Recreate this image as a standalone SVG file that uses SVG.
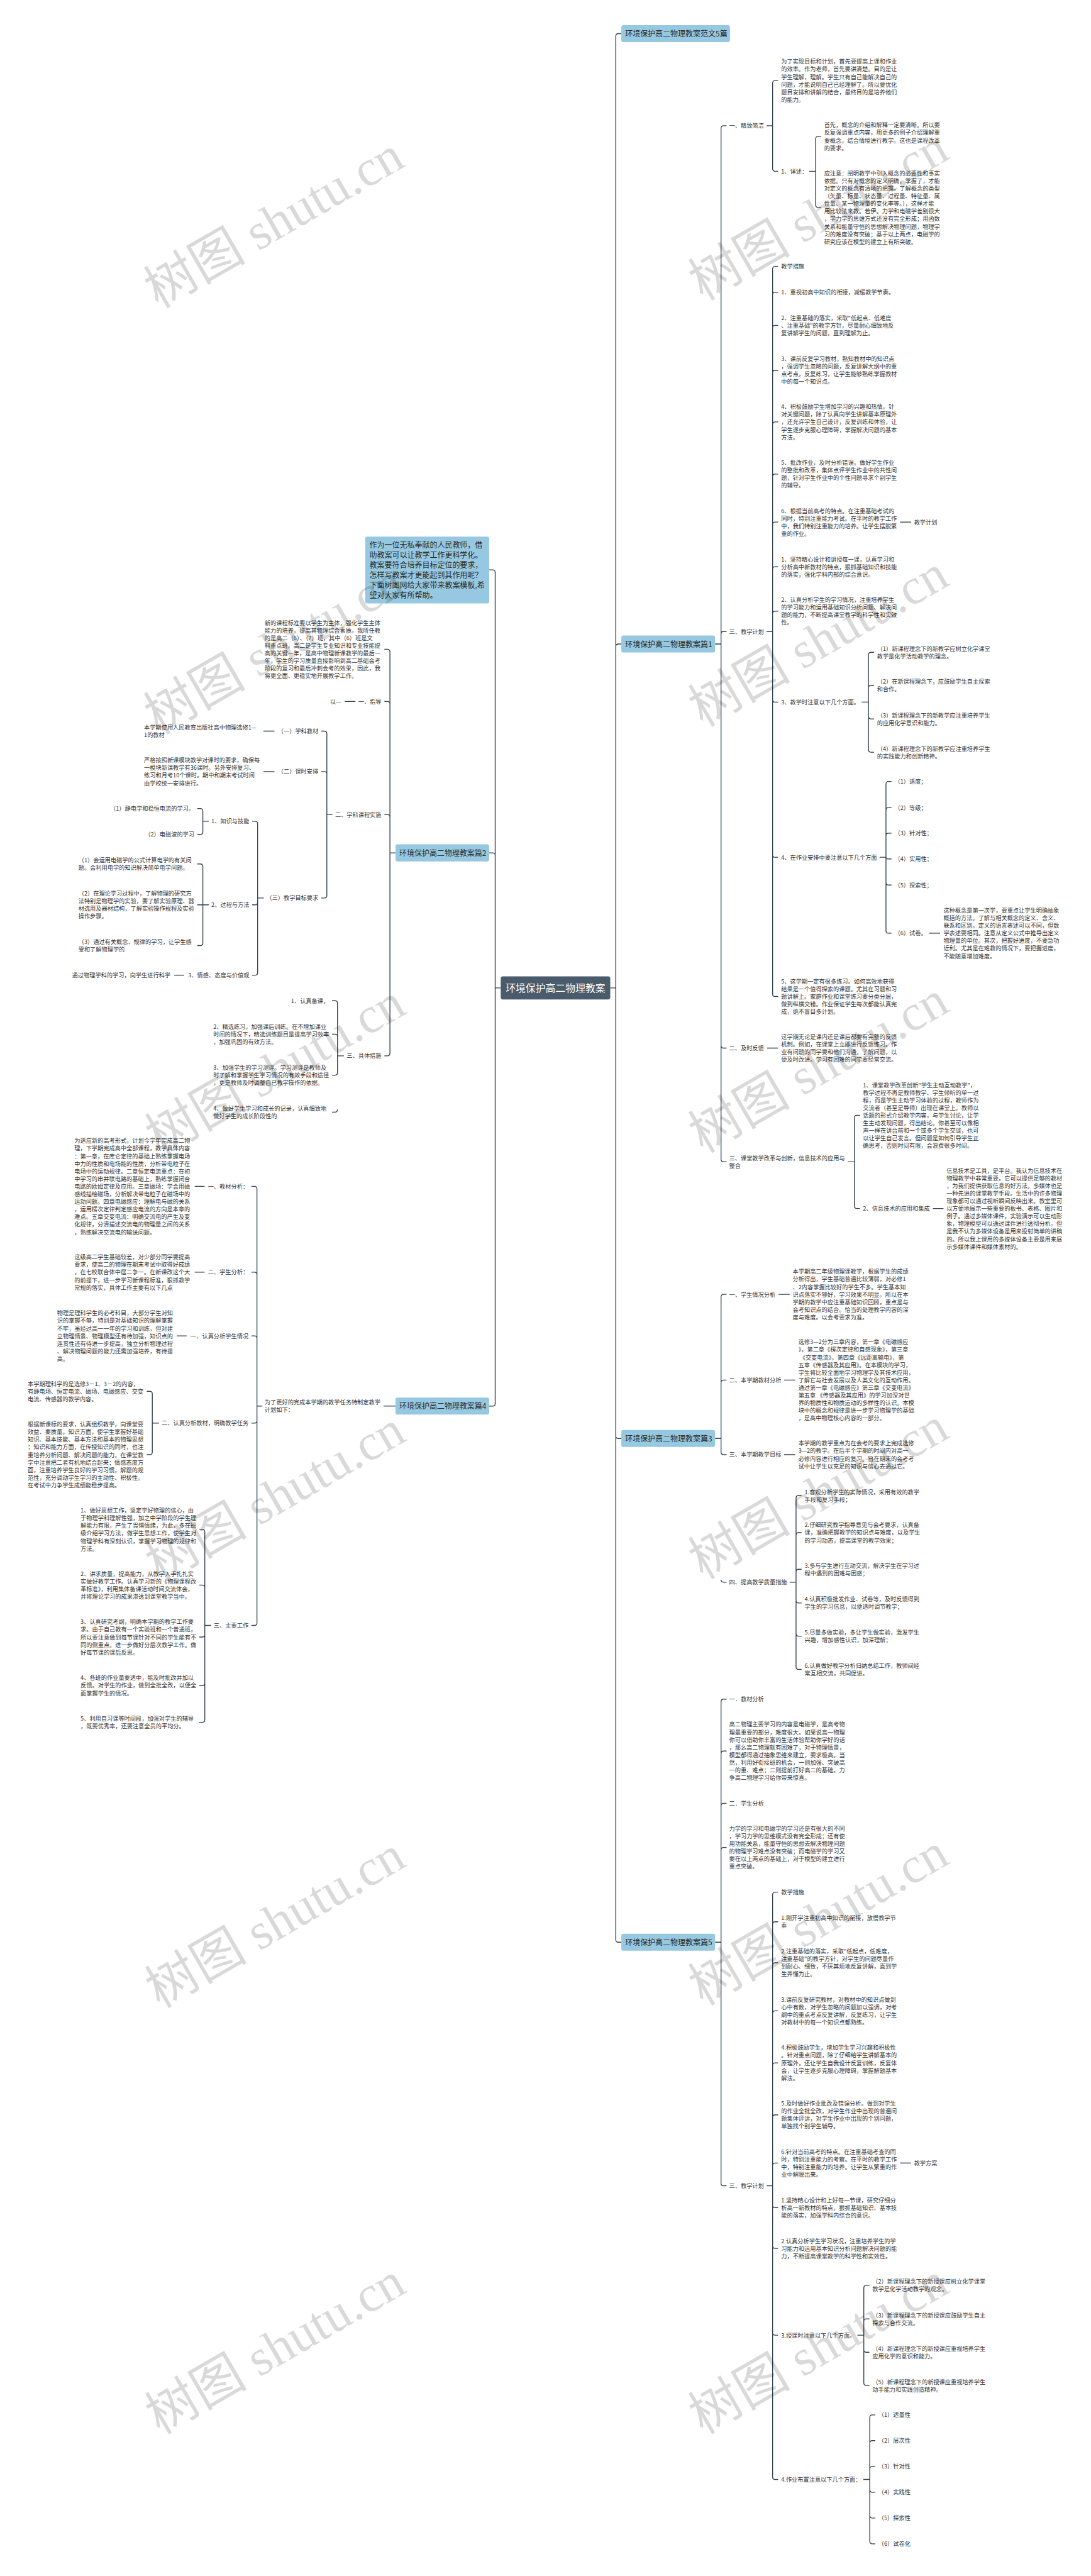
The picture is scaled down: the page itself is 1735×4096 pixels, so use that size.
<svg xmlns="http://www.w3.org/2000/svg" width="1735" height="4096" viewBox="0 0 1735 4096">
<style>
.t{font-family:"Noto Sans CJK SC","Noto Sans",sans-serif;font-size:13.6px;fill:#333}
.h{font-family:"Noto Sans CJK SC","Noto Sans",sans-serif;font-size:17.7px;fill:#2a2a2a}
.r{font-family:"Noto Sans CJK SC","Noto Sans",sans-serif;font-size:23.4px;fill:#fff;text-anchor:middle}
.e{text-anchor:end}
.ln{fill:none;stroke:#33414e;stroke-width:2}
.b1{fill:#96c9e1}
.wm{font-family:"Liberation Serif","Noto Sans CJK SC",serif;font-size:120px;fill:#000;fill-opacity:0.15;text-anchor:middle}
</style>
<rect width="1735" height="4096" fill="#fff"/>
<g transform="scale(0.6777)">
<g id="connectors">
<path class="ln" d="M1432 2318H1445V85Q1445 79 1451 79H1458M1432 2318H1445V1517Q1445 1511 1451 1511H1458M1432 2318H1445V3369Q1445 3375 1451 3375H1458M1432 2318H1445V4551Q1445 4557 1451 4557H1458"/>
<path class="ln" d="M1175 2318H1162V1343Q1162 1337 1156 1337H1148M1175 2318H1162V2007Q1162 2001 1156 2001H1148M1175 2318H1162V3293Q1162 3299 1156 3299H1148"/>
<path class="ln" d="M1678 1511H1692V301Q1692 295 1698 295H1705M1678 1511H1692V1487.5Q1692 1481.5 1698 1481.5H1705M1678 1511H1692V2453Q1692 2459 1698 2459H1705M1678 1511H1692V2720Q1692 2726 1698 2726H1705"/>
<path class="ln" d="M1799 295H1813V195Q1813 189 1819 189H1826M1799 295H1813V396Q1813 402 1819 402H1826"/>
<path class="ln" d="M1899 402H1914V326Q1914 320 1920 320H1927M1899 402H1914V480.7Q1914 486.7 1920 486.7H1927"/>
<path class="ln" d="M1799 1481.5H1813V631Q1813 625 1819 625H1826M1813 691.6Q1813 685.6 1819 685.6H1826M1813 769.4Q1813 763.4 1819 763.4H1826M1813 874.7Q1813 868.7 1819 868.7H1826M1813 996Q1813 990 1819 990H1826M1813 1118.3Q1813 1112.3 1819 1112.3H1826M1813 1231Q1813 1225 1819 1225H1826M1813 1335.7Q1813 1329.7 1819 1329.7H1826M1813 1440Q1813 1434 1819 1434H1826M1813 1481.5V2332Q1813 2338 1819 2338H1826M1813 1641.4Q1813 1647.4 1819 1647.4H1826M1813 2005.5Q1813 2011.5 1819 2011.5H1826"/>
<path class="ln" d="M2112 1225H2138"/>
<path class="ln" d="M2022 1647.4H2038V1536.6Q2038 1530.6 2044 1530.6H2051M2038 1614Q2038 1608 2044 1608H2051M2038 1647.4V1759Q2038 1765 2044 1765H2051M2038 1680.7Q2038 1686.7 2044 1686.7H2051"/>
<path class="ln" d="M2064 2011.5H2079V1839.6Q2079 1833.6 2085 1833.6H2092M2079 1900.8Q2079 1894.8 2085 1894.8H2092M2079 1960.8Q2079 1954.8 2085 1954.8H2092M2079 2011.5Q2079 2015.3 2083 2015.3H2092M2079 2011.5V2183.4Q2079 2189.4 2085 2189.4H2092M2079 2070.5Q2079 2076.5 2085 2076.5H2092"/>
<path class="ln" d="M2180 2189.4H2206M1800 2459H1826M2189 2835.5H2214"/>
<path class="ln" d="M1990 2726H2005V2623Q2005 2617 2011 2617H2018M1990 2726H2005V2829.5Q2005 2835.5 2011 2835.5H2018"/>
<path class="ln" d="M1678 3375H1692V3043Q1692 3037 1698 3037H1705M1692 3244Q1692 3238 1698 3238H1705M1678 3375H1692V3407Q1692 3413 1698 3413H1705M1692 3706.4Q1692 3712.4 1698 3712.4H1705"/>
<path class="ln" d="M1827 3037H1853M1840 3238H1866M1840 3413H1866"/>
<path class="ln" d="M1853 3712.4H1868V3515Q1868 3509 1874 3509H1881M1868 3602Q1868 3596 1874 3596H1881M1868 3688Q1868 3682 1874 3682H1881M1868 3712.4V3911Q1868 3917 1874 3917H1881M1868 3755Q1868 3761 1874 3761H1881M1868 3833Q1868 3839 1874 3839H1881"/>
<path class="ln" d="M1678 4557H1692V3992.7Q1692 3986.7 1698 3986.7H1705M1692 4114.4Q1692 4108.4 1698 4108.4H1705M1692 4237Q1692 4231 1698 4231H1705M1692 4340.8Q1692 4334.8 1698 4334.8H1705M1678 4557H1692V5122.4Q1692 5128.4 1698 5128.4H1705"/>
<path class="ln" d="M1799 5128.4H1813V4445.5Q1813 4439.5 1819 4439.5H1826M1813 4515Q1813 4509 1819 4509H1826M1813 4611Q1813 4605 1819 4605H1826M1813 4724Q1813 4718 1819 4718H1826M1813 4846Q1813 4840 1819 4840H1826M1813 4968Q1813 4962 1819 4962H1826M1813 5081Q1813 5075 1819 5075H1826M1813 5128.4V5811.5Q1813 5817.5 1819 5817.5H1826M1813 5173.6Q1813 5179.6 1819 5179.6H1826M1813 5269.4Q1813 5275.4 1819 5275.4H1826M1813 5473Q1813 5479 1819 5479H1826"/>
<path class="ln" d="M2112 5075H2138"/>
<path class="ln" d="M2012 5479H2027V5368Q2027 5362 2033 5362H2040M2027 5446.6Q2027 5440.6 2033 5440.6H2040M2027 5479V5591Q2027 5597 2033 5597H2040M2027 5513Q2027 5519 2033 5519H2040"/>
<path class="ln" d="M2026 5817.5H2041V5672Q2041 5666 2047 5666H2054M2041 5732.4Q2041 5726.4 2047 5726.4H2054M2041 5793Q2041 5787 2047 5787H2054M2041 5817.5V5962.5Q2041 5968.5 2047 5968.5H2054M2041 5841.5Q2041 5847.5 2047 5847.5H2054M2041 5902Q2041 5908 2047 5908H2054"/>
<path class="ln" d="M928 2001H915V1529.4Q915 1523.4 909 1523.4H902M915 1651.8Q915 1645.8 909 1645.8H902M915 1917Q915 1911 909 1911H902M928 2001H915V2471.4Q915 2477.4 909 2477.4H902"/>
<path class="ln" d="M834 1645.8H809"/>
<path class="ln" d="M780 1911H767V1721.3Q767 1715.3 761 1715.3H754M767 1816.4Q767 1810.4 761 1810.4H754M780 1911H767V2101Q767 2107 761 2107H754"/>
<path class="ln" d="M644 1715.3H618M644 1810.4H618"/>
<path class="ln" d="M619 2107H604.6V1933Q604.6 1927 598.6 1927H591.6M619 2107H604.6V2117Q604.6 2123 598.6 2123H591.6M604.6 2117V2282Q604.6 2288 598.6 2288H591.6"/>
<path class="ln" d="M490 1927H476V1903Q476 1897 470 1897H463M490 1927H476V1951.7Q476 1957.7 470 1957.7H463"/>
<path class="ln" d="M490 2123H476V2033Q476 2027 470 2027H463M490 2123H463M476 2123V2212.5Q476 2218.5 470 2218.5H463"/>
<path class="ln" d="M432 2288H409"/>
<path class="ln" d="M807 2477.4H792V2354Q792 2348 786 2348H779M792 2432.4Q792 2426.4 786 2426.4H779M807 2477.4H792V2516.7Q792 2522.7 786 2522.7H779M792 2603.4Q792 2609.4 786 2609.4H779"/>
<path class="ln" d="M928 3299H900"/>
<path class="ln" d="M615 3299H603V2789.6Q603 2783.6 597 2783.6H590M603 2991Q603 2985 597 2985H590M603 3140.4Q603 3134.4 597 3134.4H590M615 3299H603V3333Q603 3339 597 3339H590M603 3333V3807.6Q603 3813.6 597 3813.6H590"/>
<path class="ln" d="M480 2783.6H457M480 2985H457M438 3134.4H415"/>
<path class="ln" d="M373 3339H357.4V3270.4Q357.4 3264.4 351.4 3264.4H344.4M373 3339H357.4V3407Q357.4 3413 351.4 3413H344.4"/>
<path class="ln" d="M495 3813.6H480.6V3594.4Q480.6 3588.4 474.6 3588.4H467.6M480.6 3725Q480.6 3719 474.6 3719H467.6M495 3813.6H480.6V3835Q480.6 3841 474.6 3841H467.6M480.6 3835V3948.5Q480.6 3954.5 474.6 3954.5H467.6M480.6 3948.5V4035Q480.6 4041 474.6 4041H467.6"/>
</g>

<g id="root"><rect x="1175" y="2291" width="257" height="54" rx="5" fill="#4a5c6c"/><text class="r" x="1303.5" y="2327">环境保护高二物理教案</text></g>

<g id="intro"><rect class="b1" x="857" y="1259" width="291" height="157" rx="5"/><text class="h" x="867" y="1285.7"><tspan>作为一位无私奉献的人民教师，借</tspan><tspan x="867" dy="23.4">助教案可以让教学工作更科学化。</tspan><tspan x="867" dy="23.4">教案要符合培养目标定位的要求，</tspan><tspan x="867" dy="23.4">怎样写教案才更能起到其作用呢？</tspan><tspan x="867" dy="23.4">下面树图网给大家带来教案模板,希</tspan><tspan x="867" dy="23.4">望对大家有所帮助。</tspan></text></g>

<g id="fanwen"><rect class="b1" x="1458" y="59" width="255" height="40" rx="5"/><text class="h" x="1467" y="85.7">环境保护高二物理教案范文5篇</text></g>

<g id="p1"><rect class="b1" x="1458" y="1491" width="220" height="40" rx="5"/><text class="h" x="1467" y="1517.7">环境保护高二物理教案篇1</text></g>
<g id="p1-1"><text class="t" x="1711" y="300.2">一、精致简洁</text></g>
<g id="p1-1-1"><text class="t" x="1833" y="149.6"><tspan>为了实现目标和计划，首先要提高上课和作业</tspan><tspan x="1833" dy="17.86">的效率。作为老师，首先要讲清楚。目的是让</tspan><tspan x="1833" dy="17.86">学生理解，理解。学生只有自己能解决自己的</tspan><tspan x="1833" dy="17.86">问题，才能说明自己已经理解了。所以要优化</tspan><tspan x="1833" dy="17.86">题目安排和讲解的结合，最终目的是培养他们</tspan><tspan x="1833" dy="17.86">的能力。</tspan></text></g>
<g id="p1-1-2"><text class="t" x="1833" y="407">1、详述：</text></g>
<g id="p1-1-2-1"><text class="t" x="1934" y="298.6"><tspan>首先，概念的介绍和解释一定要清晰。所以要</tspan><tspan x="1934" dy="17.86">反复强调重点内容，用更多的例子介绍理解重</tspan><tspan x="1934" dy="17.86">要概念，结合情境进行教学。这也是课程改革</tspan><tspan x="1934" dy="17.86">的要求。</tspan></text></g>
<g id="p1-1-2-2"><text class="t" x="1934" y="411.5"><tspan>应注意：阐明教学中引入概念的必要性和事实</tspan><tspan x="1934" dy="17.86">依据。只有对概念的定义明确，掌握了，才能</tspan><tspan x="1934" dy="17.86">对定义的概念有清晰的把握。了解概念的类型</tspan><tspan x="1934" dy="17.86">（矢量、标量、状态量、过程量、特征量、属</tspan><tspan x="1934" dy="17.86">性量、某一物理量的变化率等。），这样才能</tspan><tspan x="1934" dy="17.86">用比较法来教。若伊。力学和电磁学差别很大</tspan><tspan x="1934" dy="17.86">，学力学的思维方式还没有完全形成；用函数</tspan><tspan x="1934" dy="17.86">关系和能量守恒的思想解决物理问题，物理学</tspan><tspan x="1934" dy="17.86">习的难度没有突破；基于以上两点，电磁学的</tspan><tspan x="1934" dy="17.86">研究应该在模型的建立上有所突破。</tspan></text></g>

<g id="p1-3"><text class="t" x="1711" y="1486.7">三、教学计划</text></g>
<g id="p1-3-0"><text class="t" x="1833" y="630.2">教学措施</text></g>
<g id="p1-3-1"><text class="t" x="1833" y="690.8">1、重视初高中知识的衔接，减缓教学节奏。</text></g>
<g id="p1-3-2"><text class="t" x="1833" y="750.7"><tspan>2、注重基础的落实，采取"低起点、低难度</tspan><tspan x="1833" dy="17.86">、注重基础"的教学方针，尽量耐心细致地反</tspan><tspan x="1833" dy="17.86">复讲解学生的问题，直到理解为止。</tspan></text></g>
<g id="p1-3-3"><text class="t" x="1833" y="847.1"><tspan>3、课前反复学习教材，熟知教材中的知识点</tspan><tspan x="1833" dy="17.86">，强调学生忽略的问题，反复讲解大纲中的重</tspan><tspan x="1833" dy="17.86">点考点，反复练习，让学生能够熟练掌握教材</tspan><tspan x="1833" dy="17.86">中的每一个知识点。</tspan></text></g>
<g id="p1-3-4"><text class="t" x="1833" y="959.5"><tspan>4、积极鼓励学生增加学习的兴趣和热情。针</tspan><tspan x="1833" dy="17.86">对关键问题，除了认真向学生讲解基本原理外</tspan><tspan x="1833" dy="17.86">，还允许学生自己设计，反复训练和体验，让</tspan><tspan x="1833" dy="17.86">学生逐步克服心理障碍，掌握解决问题的基本</tspan><tspan x="1833" dy="17.86">方法。</tspan></text></g>
<g id="p1-3-5"><text class="t" x="1833" y="1090.7"><tspan>5、批改作业，及时分析错误。做好学生作业</tspan><tspan x="1833" dy="17.86">的整批和改革，集体点评学生作业中的共性问</tspan><tspan x="1833" dy="17.86">题，针对学生作业中的个性问题寻求个别学生</tspan><tspan x="1833" dy="17.86">的辅导。</tspan></text></g>
<g id="p1-3-6"><text class="t" x="1833" y="1203.4"><tspan>6、根据当前高考的特点。在注重基础考试的</tspan><tspan x="1833" dy="17.86">同时，特别注重能力考试。在平时的教学工作</tspan><tspan x="1833" dy="17.86">中，我们特别注重能力的培养。让学生摆脱繁</tspan><tspan x="1833" dy="17.86">重的作业。</tspan></text></g>
<g id="p1-3-6-1"><text class="t" x="2145" y="1230.2">教学计划</text></g>
<g id="p1-3-7"><text class="t" x="1833" y="1317"><tspan>1、坚持精心设计和讲授每一课，认真学习和</tspan><tspan x="1833" dy="17.86">分析高中新教材的特点，狠抓基础知识和技能</tspan><tspan x="1833" dy="17.86">的落实，强化学科内部的综合意识。</tspan></text></g>
<g id="p1-3-8"><text class="t" x="1833" y="1412.4"><tspan>2、认真分析学生的学习情况，注重培养学生</tspan><tspan x="1833" dy="17.86">的学习能力和运用基础知识分析问题、解决问</tspan><tspan x="1833" dy="17.86">题的能力，不断提高课堂教学的科学性和实效</tspan><tspan x="1833" dy="17.86">性。</tspan></text></g>
<g id="p1-3-9"><text class="t" x="1833" y="1652.6">3、教学时注意以下几个方面。</text></g>
<g id="p1-3-9-1"><text class="t" x="2058" y="1526.9"><tspan>（1）新课程理念下的新教学应树立化学课堂</tspan><tspan x="2058" dy="17.86">教学是化学活动教学的理念。</tspan></text></g>
<g id="p1-3-9-2"><text class="t" x="2058" y="1604.3"><tspan>（2）在新课程理念下，应鼓励学生自主探索</tspan><tspan x="2058" dy="17.86">和合作。</tspan></text></g>
<g id="p1-3-9-3"><text class="t" x="2058" y="1683"><tspan>（3）新课程理念下的新教学应注重培养学生</tspan><tspan x="2058" dy="17.86">的应用化学意识和能力。</tspan></text></g>
<g id="p1-3-9-4"><text class="t" x="2058" y="1761.3"><tspan>（4）新课程理念下的新教学应注重培养学生</tspan><tspan x="2058" dy="17.86">的实践能力和创新精神。</tspan></text></g>
<g id="p1-3-10"><text class="t" x="1833" y="2016.7">4、在作业安排中要注意以下几个方面</text></g>
<g id="p1-3-10-1"><text class="t" x="2099" y="1838.8">（1）适度；</text></g>
<g id="p1-3-10-2"><text class="t" x="2099" y="1900">（2）等级；</text></g>
<g id="p1-3-10-3"><text class="t" x="2099" y="1960">（3）针对性；</text></g>
<g id="p1-3-10-4"><text class="t" x="2099" y="2020.5">（4）实用性；</text></g>
<g id="p1-3-10-5"><text class="t" x="2099" y="2081.7">（5）探索性；</text></g>
<g id="p1-3-10-6"><text class="t" x="2099" y="2194.6">（6）试卷。</text></g>
<g id="p1-3-10-6-1"><text class="t" x="2214" y="2141"><tspan>这种概念是第一次学，要重点让学生明确抽象</tspan><tspan x="2214" dy="17.86">概括的方法。了解与相关概念的定义、含义、</tspan><tspan x="2214" dy="17.86">联系和区别。定义的语言表述可以不同，但数</tspan><tspan x="2214" dy="17.86">学表述要相同。注意从定义公式中推导出定义</tspan><tspan x="2214" dy="17.86">物理量的单位。其次，把握好进度，不要急功</tspan><tspan x="2214" dy="17.86">近利。尤其是在难教的情况下，要把握进度，</tspan><tspan x="2214" dy="17.86">不能随意增加难度。</tspan></text></g>
<g id="p1-3-11"><text class="t" x="1833" y="2307.5"><tspan>5、这学期一定有很多练习。如何高效地获得</tspan><tspan x="1833" dy="17.86">结果是一个值得探索的课题。尤其在习题和习</tspan><tspan x="1833" dy="17.86">题讲解上。家庭作业和课堂练习要分类分层，</tspan><tspan x="1833" dy="17.86">做到纵横交错。作业保证学生每次都能认真完</tspan><tspan x="1833" dy="17.86">成，绝不盲目多计划。</tspan></text></g>
<g id="p1-2"><text class="t" x="1711" y="2464.2">二、及时反馈</text></g>
<g id="p1-2-1"><text class="t" x="1833" y="2437.4"><tspan>这学期无论是课内还是课后都要有完整的反馈</tspan><tspan x="1833" dy="17.86">机制。例如，在课堂上立即进行反馈练习。作</tspan><tspan x="1833" dy="17.86">业有问题的同学要和他们沟通，了解问题，以</tspan><tspan x="1833" dy="17.86">便及时改进。学习有困难的同学要经常交流。</tspan></text></g>
<g id="p1-4"><text class="t" x="1711" y="2722.3"><tspan>三、课堂教学改革与创新，信息技术的应用与</tspan><tspan x="1711" dy="17.86">整合</tspan></text></g>
<g id="p1-4-1"><text class="t" x="2025" y="2550.8"><tspan>1、课堂教学改革创新"学生主动互动教学"，</tspan><tspan x="2025" dy="17.86">教学过程不再是教师教学、学生倾听的单一过</tspan><tspan x="2025" dy="17.86">程，而是学生主动学习体验的过程，教师作为</tspan><tspan x="2025" dy="17.86">交流者（甚至是导师）出现在课堂上。教师以</tspan><tspan x="2025" dy="17.86">话题的形式介绍教学内容，与学生讨论，让学</tspan><tspan x="2025" dy="17.86">生主动发现问题，得出结论。你甚至可以像相</tspan><tspan x="2025" dy="17.86">声一样在讲台前和一个或多个学生交谈，也可</tspan><tspan x="2025" dy="17.86">以让学生自己发言。但问题是如何引导学生正</tspan><tspan x="2025" dy="17.86">确思考，否则时间有限，会浪费很多时间。</tspan></text></g>
<g id="p1-4-2"><text class="t" x="2025" y="2840.7">2、信息技术的应用和集成</text></g>
<g id="p1-4-2-1"><text class="t" x="2221" y="2751.4"><tspan>信息技术是工具，是平台。我认为信息技术在</tspan><tspan x="2221" dy="17.86">物理教学中非常重要。它可以提供足够的教材</tspan><tspan x="2221" dy="17.86">，为我们提供获取信息的好方法。多媒体也是</tspan><tspan x="2221" dy="17.86">一种先进的课堂教学手段。生活中的许多物理</tspan><tspan x="2221" dy="17.86">现象都可以通过视听瞬间反映出来。教室里可</tspan><tspan x="2221" dy="17.86">以方便地展示一些重要的板书、表格、图片和</tspan><tspan x="2221" dy="17.86">例子。通过多媒体课件，实验演示可以生动形</tspan><tspan x="2221" dy="17.86">象，物理模型可以通过课件进行透彻分析。但</tspan><tspan x="2221" dy="17.86">是我不认为多媒体设备是用来投射简单的讲稿</tspan><tspan x="2221" dy="17.86">的。所以我上课用的多媒体设备主要是用来展</tspan><tspan x="2221" dy="17.86">示多媒体课件和媒体素材的。</tspan></text></g>

<g id="p3"><rect class="b1" x="1458" y="3355" width="220" height="40" rx="5"/><text class="h" x="1467" y="3381.7">环境保护高二物理教案篇3</text></g>
<g id="p3-1"><text class="t" x="1711" y="3042.2">一、学生情况分析</text></g>
<g id="p3-1-1"><text class="t" x="1860" y="2988.6"><tspan>本学期高二年级物理课教学，根据学生的成绩</tspan><tspan x="1860" dy="17.86">分析得出，学生基础普遍比较薄弱，对必修1</tspan><tspan x="1860" dy="17.86">、2内容掌握比较好的学生不多。学生基本知</tspan><tspan x="1860" dy="17.86">识点落实不够好，学习效果不明显。所以在本</tspan><tspan x="1860" dy="17.86">学期的教学中应注重基础知识回顾，重点是与</tspan><tspan x="1860" dy="17.86">会考知识点的结合。恰当的处理教学内容的深</tspan><tspan x="1860" dy="17.86">度与难度。以会考要求为准。</tspan></text></g>
<g id="p3-2"><text class="t" x="1711" y="3243.2">二、本学期教材分析</text></g>
<g id="p3-2-1"><text class="t" x="1873.5" y="3153.9"><tspan>选修3—2分为三章内容，第一章《电磁感应</tspan><tspan x="1873.5" dy="17.86">》，第二章《楞次定律和自感现象》，第三章</tspan><tspan x="1873.5" dy="17.86"> 《交变电流》，第四章《远距离输电》，第</tspan><tspan x="1873.5" dy="17.86">五章《传感器及其应用》。在本模块的学习，</tspan><tspan x="1873.5" dy="17.86">学生将比较全面地学习物理学及其技术应用，</tspan><tspan x="1873.5" dy="17.86">了解它与社会发展以及人类文化的互动作用。</tspan><tspan x="1873.5" dy="17.86">通过第一章《电磁感应》第三章《交变电流》</tspan><tspan x="1873.5" dy="17.86">第五章 《传感器及其应用》的学习加深对世</tspan><tspan x="1873.5" dy="17.86">界的物质性和物质运动的多样性的认识。本模</tspan><tspan x="1873.5" dy="17.86">块中的概念和规律是进一步学习物理学的基础</tspan><tspan x="1873.5" dy="17.86">，是高中物理核心内容的一部分。</tspan></text></g>
<g id="p3-3"><text class="t" x="1711" y="3418.2">三、本学期教学目标</text></g>
<g id="p3-3-1"><text class="t" x="1873.5" y="3391.4"><tspan>本学期的教学重点为在会考的要求上完成选修</tspan><tspan x="1873.5" dy="17.86">3—2的教学。在后半个学期的时间内对高一</tspan><tspan x="1873.5" dy="17.86">必修内容进行相应的复习。旨在期末的会考考</tspan><tspan x="1873.5" dy="17.86">试中让学生以充足的知识与信心去通过它。</tspan></text></g>
<g id="p3-4"><text class="t" x="1711" y="3717.6">四、提高教学质量措施</text></g>
<g id="p3-4-1"><text class="t" x="1888" y="3505.3"><tspan>1.客观分析学生的实际情况，采用有效的教学</tspan><tspan x="1888" dy="17.86">手段和复习手段；</tspan></text></g>
<g id="p3-4-2"><text class="t" x="1888" y="3583.3"><tspan>2.仔细研究教学指导意见与会考要求，认真备</tspan><tspan x="1888" dy="17.86">课，准确把握教学的知识点与难度，以及学生</tspan><tspan x="1888" dy="17.86">的学习动态，提高课堂的教学效果；</tspan></text></g>
<g id="p3-4-3"><text class="t" x="1888" y="3678.3"><tspan>3.多与学生进行互动交流，解决学生在学习过</tspan><tspan x="1888" dy="17.86">程中遇到的困难与困惑；</tspan></text></g>
<g id="p3-4-4"><text class="t" x="1888" y="3757.3"><tspan>4.认真积极批发作业、试卷等，及时反馈得到</tspan><tspan x="1888" dy="17.86">学生的学习信息，以便适时调节教学；</tspan></text></g>
<g id="p3-4-5"><text class="t" x="1888" y="3835.3"><tspan>5.尽量多做实验，多让学生做实验，激发学生</tspan><tspan x="1888" dy="17.86">兴趣，增加感性认识，加深理解；</tspan></text></g>
<g id="p3-4-6"><text class="t" x="1888" y="3913.3"><tspan>6.认真做好教学分析归纳总结工作，教师间经</tspan><tspan x="1888" dy="17.86">常互相交流，共同促进。</tspan></text></g>

<g id="p5"><rect class="b1" x="1458" y="4537" width="220" height="40" rx="5"/><text class="h" x="1467" y="4563.7">环境保护高二物理教案篇5</text></g>
<g id="p5-1"><text class="t" x="1711" y="3991.9">一．教材分析</text></g>
<g id="p5-2"><text class="t" x="1711" y="4051.1"><tspan>高二物理主要学习的内容是电磁学，是高考物</tspan><tspan x="1711" dy="17.86">理最重要的部分，难度很大。如果说高一物理</tspan><tspan x="1711" dy="17.86">你可以借助你丰富的生活体验帮助你学好的话</tspan><tspan x="1711" dy="17.86">，那么高二物理就有困难了，对于物理情景，</tspan><tspan x="1711" dy="17.86">模型都得通过抽象思维来建立，要求极高。当</tspan><tspan x="1711" dy="17.86">然，利用好衔接班的机会，一则加强、突破高</tspan><tspan x="1711" dy="17.86">一的重、难点；二则提前打好高二的基础。力</tspan><tspan x="1711" dy="17.86">争高二物理学习给你带来惊喜。</tspan></text></g>
<g id="p5-3"><text class="t" x="1711" y="4236.2">二．学生分析</text></g>
<g id="p5-4"><text class="t" x="1711" y="4295.4"><tspan>力学的学习和电磁学的学习还是有很大的不同</tspan><tspan x="1711" dy="17.86">，学习力学的思维模式没有完全形成；还有使</tspan><tspan x="1711" dy="17.86">用功能关系，能量守恒的思想去解决物理问题</tspan><tspan x="1711" dy="17.86">的物理学习难点没有突破；而电磁学的学习又</tspan><tspan x="1711" dy="17.86">要在以上两点的基础上，对于模型的建立进行</tspan><tspan x="1711" dy="17.86">重点突破。</tspan></text></g>
<g id="p5-5"><text class="t" x="1711" y="5133.6">三、教学计划</text></g>
<g id="p5-5-0"><text class="t" x="1833" y="4444.7">教学措施</text></g>
<g id="p5-5-1"><text class="t" x="1833" y="4505.3"><tspan>1.刚开学注重初高中知识的衔接，放慢教学节</tspan><tspan x="1833" dy="17.86">奏</tspan></text></g>
<g id="p5-5-2"><text class="t" x="1833" y="4583.4"><tspan>2.注重基础的落实，采取"低起点，低难度，</tspan><tspan x="1833" dy="17.86">注重基础"的教学方针，对学生的问题尽量作</tspan><tspan x="1833" dy="17.86">到耐心、细致，不厌其烦地反复讲解，直到学</tspan><tspan x="1833" dy="17.86">生弄懂为止。</tspan></text></g>
<g id="p5-5-3"><text class="t" x="1833" y="4696.4"><tspan>3.课前反复研究教材，对教材中的知识点做到</tspan><tspan x="1833" dy="17.86">心中有数，对学生忽略的问题加以强调，对考</tspan><tspan x="1833" dy="17.86">纲中的重点考点反复讲解，反复练习，让学生</tspan><tspan x="1833" dy="17.86">对教材中的每一个知识点都熟练。</tspan></text></g>
<g id="p5-5-4"><text class="t" x="1833" y="4809.5"><tspan>4.积极鼓励学生，增加学生学习兴趣和积极性</tspan><tspan x="1833" dy="17.86">。针对重点问题，除了仔细给学生讲解基本的</tspan><tspan x="1833" dy="17.86">原理外，还让学生自我设计反复训练，反复体</tspan><tspan x="1833" dy="17.86">会，让学生逐步克服心理障碍，掌握解题基本</tspan><tspan x="1833" dy="17.86">解法。</tspan></text></g>
<g id="p5-5-5"><text class="t" x="1833" y="4940.4"><tspan>5.及时做好作业批改及错误分析。做到对学生</tspan><tspan x="1833" dy="17.86">的作业全批全改，对学生作业中出现的普遍问</tspan><tspan x="1833" dy="17.86">题集体评讲，对学生作业中出现的个别问题，</tspan><tspan x="1833" dy="17.86">单独找个别学生辅导。</tspan></text></g>
<g id="p5-5-6"><text class="t" x="1833" y="5053.4"><tspan>6.针对当前高考的特点。在注重基础考查的同</tspan><tspan x="1833" dy="17.86">时，特别注重能力的考察。在平时的教学工作</tspan><tspan x="1833" dy="17.86">中，特别注重能力的培养。让学生从繁重的作</tspan><tspan x="1833" dy="17.86">业中解脱出来。</tspan></text></g>
<g id="p5-5-6-1"><text class="t" x="2145" y="5080.2">教学方案</text></g>
<g id="p5-5-7"><text class="t" x="1833" y="5166.9"><tspan>1.坚持精心设计和上好每一节课，研究仔细分</tspan><tspan x="1833" dy="17.86">析高一新教材的特点，狠抓基础知识、基本技</tspan><tspan x="1833" dy="17.86">能的落实，加强学科内综合的意识。</tspan></text></g>
<g id="p5-5-8"><text class="t" x="1833" y="5262.7"><tspan>2.认真分析学生学习状况，注重培养学生的学</tspan><tspan x="1833" dy="17.86">习能力和运用基本知识分析问题解决问题的能</tspan><tspan x="1833" dy="17.86">力，不断提高课堂教学的科学性和实效性。</tspan></text></g>
<g id="p5-5-9"><text class="t" x="1833" y="5484.2">3.授课时注意以下几个方面。</text></g>
<g id="p5-5-9-1"><text class="t" x="2047" y="5358.3"><tspan>（2）新课程理念下的新授课应树立化学课堂</tspan><tspan x="2047" dy="17.86">教学是化学活动教学的观念。</tspan></text></g>
<g id="p5-5-9-2"><text class="t" x="2047" y="5436.9"><tspan>（3）新课程理念下的新授课应鼓励学生自主</tspan><tspan x="2047" dy="17.86">探索与合作交流。</tspan></text></g>
<g id="p5-5-9-3"><text class="t" x="2047" y="5515.3"><tspan>（4）新课程理念下的新授课应重视培养学生</tspan><tspan x="2047" dy="17.86">应用化学的意识和能力。</tspan></text></g>
<g id="p5-5-9-4"><text class="t" x="2047" y="5593.3"><tspan>（5）新课程理念下的新授课应重视培养学生</tspan><tspan x="2047" dy="17.86">动手能力和实践创造精神。</tspan></text></g>
<g id="p5-5-10"><text class="t" x="1833" y="5822.7">4.作业布置注意以下几个方面：</text></g>
<g id="p5-5-10-1"><text class="t" x="2061" y="5671.2">（1）适量性</text></g>
<g id="p5-5-10-2"><text class="t" x="2061" y="5731.6">（2）层次性</text></g>
<g id="p5-5-10-3"><text class="t" x="2061" y="5792.2">（3）针对性</text></g>
<g id="p5-5-10-4"><text class="t" x="2061" y="5852.7">（4）实践性</text></g>
<g id="p5-5-10-5"><text class="t" x="2061" y="5913.2">（5）探索性</text></g>
<g id="p5-5-10-6"><text class="t" x="2061" y="5973.7">（6）试卷化</text></g>

<g id="p2"><rect class="b1" x="928" y="1981" width="220" height="40" rx="5"/><text class="h" x="937" y="2007.7">环境保护高二物理教案篇2</text></g>
<g id="p2-0"><text class="t" x="621" y="1466.1"><tspan>新的课程标准要以学生为主体，强化学生主体</tspan><tspan x="621" dy="17.86">能力的培养，提高其物理综合素质。我所任教</tspan><tspan x="621" dy="17.86">的是高二（6）、（7）班，其中（6）班是文</tspan><tspan x="621" dy="17.86">科重点班。高二是学生专业知识和专业技能提</tspan><tspan x="621" dy="17.86">高的关键一年，是高中物理新课教学的最后一</tspan><tspan x="621" dy="17.86">年，学生的学习质量直接影响到高二基础会考</tspan><tspan x="621" dy="17.86">阶段的复习和最后冲刺会考的效果，因此，我</tspan><tspan x="621" dy="17.86">将更全面、更稳实地开展教学工作。</tspan></text></g>
<g id="p2-1"><text class="t e" x="895" y="1651">一、指导</text></g>
<g id="p2-1-1"><text class="t e" x="800" y="1651">以—</text></g>
<g id="p2-2"><text class="t e" x="895" y="1916.2">二、学科课程实施</text></g>
<g id="p2-2-1"><text class="t e" x="747" y="1720.5">（一）学科教材</text></g>
<g id="p2-2-1-1"><text class="t" x="338" y="1711.6"><tspan>本学期使用人民教育出版社高中物理选修1—</tspan><tspan x="338" dy="17.86">1的教材</tspan></text></g>
<g id="p2-2-2"><text class="t e" x="747" y="1815.6">（二）课时安排</text></g>
<g id="p2-2-2-1"><text class="t" x="338" y="1788.8"><tspan>严格按照新课模块教学对课时的要求，确保每</tspan><tspan x="338" dy="17.86">一模块新课教学有36课时。另外安排复习、</tspan><tspan x="338" dy="17.86">练习和月考10个课时。期中和期末考试时间</tspan><tspan x="338" dy="17.86">由学校统一安排进行。</tspan></text></g>
<g id="p2-2-3"><text class="t e" x="747" y="2112.2">（三）教学目标要求</text></g>
<g id="p2-2-3-1"><text class="t e" x="585" y="1932.2">1、知识与技能</text></g>
<g id="p2-2-3-1-1"><text class="t e" x="456" y="1902.2">（1）静电学和稳恒电流的学习。</text></g>
<g id="p2-2-3-1-2"><text class="t e" x="456" y="1962.9">（2）电磁波的学习</text></g>
<g id="p2-2-3-2"><text class="t e" x="585" y="2128.2">2、过程与方法</text></g>
<g id="p2-2-3-2-1"><text class="t" x="184" y="2023.3"><tspan>（1）会运用电磁学的公式计算电学的有关问</tspan><tspan x="184" dy="17.86">题。会利用电学的知识解决简单电学问题。</tspan></text></g>
<g id="p2-2-3-2-2"><text class="t" x="184" y="2101.4"><tspan>（2）在理论学习过程中，了解物理的研究方</tspan><tspan x="184" dy="17.86">法特别是物理学的实验，要了解实验原理、器</tspan><tspan x="184" dy="17.86">材选用及器材结构，了解实验操作规程及实验</tspan><tspan x="184" dy="17.86">操作步骤。</tspan></text></g>
<g id="p2-2-3-2-3"><text class="t" x="184" y="2214.8"><tspan>（3）通过有关概念、规律的学习，让学生感</tspan><tspan x="184" dy="17.86">受和了解物理学的</tspan></text></g>
<g id="p2-2-3-3"><text class="t e" x="585" y="2293.2">3、情感、态度与价值观</text></g>
<g id="p2-2-3-3-1"><text class="t e" x="400" y="2293.2">通过物理学科的学习，向学生进行科学</text></g>
<g id="p2-3"><text class="t e" x="895" y="2482.6">三、具体措施</text></g>
<g id="p2-3-1"><text class="t e" x="772" y="2353.2">1、认真备课，</text></g>
<g id="p2-3-2"><text class="t" x="500.5" y="2413.7"><tspan>2、精选练习，加强课后训练。在不增加课业</tspan><tspan x="500.5" dy="17.86">时间的情况下，精选训练题目是提高学习效率</tspan><tspan x="500.5" dy="17.86">，加强巩固的有效方法。</tspan></text></g>
<g id="p2-3-3"><text class="t" x="500.5" y="2510"><tspan>3、加强学生的学习测评。学习测评是教师及</tspan><tspan x="500.5" dy="17.86">时了解和掌握学生学习情况的有效手段和途径</tspan><tspan x="500.5" dy="17.86">，更是教师及时调整自已教学操作的依据。</tspan></text></g>
<g id="p2-3-4"><text class="t" x="500.5" y="2605.7"><tspan>4、做好学生学习和成长的记录，认真细致地</tspan><tspan x="500.5" dy="17.86">做好学生的成长阶段性的</tspan></text></g>

<g id="p4"><rect class="b1" x="928" y="3279" width="220" height="40" rx="5"/><text class="h" x="937" y="3305.7">环境保护高二物理教案篇4</text></g>
<g id="p4-0"><text class="t" x="621" y="3295.3"><tspan>为了更好的完成本学期的教学任务特制定教学</tspan><tspan x="621" dy="17.86">计划如下：</tspan></text></g>
<g id="p4-1"><text class="t e" x="583" y="2788.8">一、教材分析：</text></g>
<g id="p4-1-1"><text class="t" x="174.5" y="2681.6"><tspan>为适应新的高考形式，计划今学年完成高二物</tspan><tspan x="174.5" dy="17.86">理，下学期完成高中全部课程，教学具体内容</tspan><tspan x="174.5" dy="17.86">：第一章，在库仑定律的基础上熟练掌握电场</tspan><tspan x="174.5" dy="17.86">中力的性质和电场能的性质，分析带电粒子在</tspan><tspan x="174.5" dy="17.86">电场中的运动规律。二章恒定电流重点：在初</tspan><tspan x="174.5" dy="17.86">中学习的串并联电路的基础上，熟练掌握闭合</tspan><tspan x="174.5" dy="17.86">电路的欧姆定律及应用。三章磁场：学会用磁</tspan><tspan x="174.5" dy="17.86">感线描绘磁场，分析解决带电粒子在磁场中的</tspan><tspan x="174.5" dy="17.86">运动问题。四章电磁感应：理解电与磁的关系</tspan><tspan x="174.5" dy="17.86">，运用楞次定律判定感应电流的方向是本章的</tspan><tspan x="174.5" dy="17.86">难点。五章交变电流：明确交流电的产生及变</tspan><tspan x="174.5" dy="17.86">化规律，分清描述交流电的物理量之间的关系</tspan><tspan x="174.5" dy="17.86">，熟练解决交流电的输送问题。</tspan></text></g>
<g id="p4-2"><text class="t e" x="583" y="2990.2">二、学生分析：</text></g>
<g id="p4-2-1"><text class="t" x="174.5" y="2954.5"><tspan>这级高二学生基础较差，对少部分同学要提高</tspan><tspan x="174.5" dy="17.86">要求，使高二的物理在期末考试中取得好成绩</tspan><tspan x="174.5" dy="17.86">，在七校联合体中居二争一。在新课改这个大</tspan><tspan x="174.5" dy="17.86">的前提下，进一步学习新课程标准，狠抓教学</tspan><tspan x="174.5" dy="17.86">常规的落实，具体工作主要有以下几点</tspan></text></g>
<g id="p4-3"><text class="t e" x="583" y="3139.6">一、认真分析学生情况</text></g>
<g id="p4-3-1"><text class="t" x="134" y="3086"><tspan>物理是理科学生的必考科目，大部分学生对知</tspan><tspan x="134" dy="17.86">识的掌握不够，特别是对基础知识的理解掌握</tspan><tspan x="134" dy="17.86">不牢，虽经过高一一年的学习和训练，但对建</tspan><tspan x="134" dy="17.86">立物理情景、物理模型还有待加强，知识点的</tspan><tspan x="134" dy="17.86">连贯性还有待进一步提高，独立分析物理过程</tspan><tspan x="134" dy="17.86">、解决物理问题的能力还需加强培养，有待提</tspan><tspan x="134" dy="17.86">高。</tspan></text></g>
<g id="p4-4"><text class="t e" x="583" y="3344.2">二、认真分析教材，明确教学任务</text></g>
<g id="p4-4-1"><text class="t" x="65" y="3251.7"><tspan>本学期理科学的是选修3－1、3－2的内容，</tspan><tspan x="65" dy="17.86">有静电场、恒定电流、磁场、电磁感应、交变</tspan><tspan x="65" dy="17.86">电流、传感器的教学内容。</tspan></text></g>
<g id="p4-4-2"><text class="t" x="65" y="3346.8"><tspan>根据新课标的要求，认真组织教学，向课堂要</tspan><tspan x="65" dy="17.86">效益、要质量。知识方面，使学生掌握好基础</tspan><tspan x="65" dy="17.86">知识、基本技能、基本方法和基本的物理思想</tspan><tspan x="65" dy="17.86">；知识和能力方面，在传授知识的同时，也注</tspan><tspan x="65" dy="17.86">重培养分析问题、解决问题的能力，在课堂教</tspan><tspan x="65" dy="17.86">学中注意把二者有机地结合起来；情感态度方</tspan><tspan x="65" dy="17.86">面，注重培养学生良好的学习习惯，解题的规</tspan><tspan x="65" dy="17.86">范性，充分调动学生学习的主动性、积极性。</tspan><tspan x="65" dy="17.86">在考试中力争学生成绩能稳步提高。</tspan></text></g>
<g id="p4-5"><text class="t e" x="583" y="3818.8">三、主要工作</text></g>
<g id="p4-5-1"><text class="t" x="189" y="3549"><tspan>1、做好思想工作，坚定学好物理的信心，由</tspan><tspan x="189" dy="17.86">于物理学科理解性强，加之中学阶段的学生理</tspan><tspan x="189" dy="17.86">解能力有限，产生了畏惧情绪，为此，多在班</tspan><tspan x="189" dy="17.86">级介绍学习方法，做学生思想工作，使学生对</tspan><tspan x="189" dy="17.86">物理学科有深刻认识，掌握学习物理的规律和</tspan><tspan x="189" dy="17.86">方法。</tspan></text></g>
<g id="p4-5-2"><text class="t" x="189" y="3697.4"><tspan>2、讲求质量，提高能力，从教学入手扎扎实</tspan><tspan x="189" dy="17.86">实做好教学工作。认真学习新的《物理课程改</tspan><tspan x="189" dy="17.86">革标准》，利用集体备课活动时间交流体会，</tspan><tspan x="189" dy="17.86">并将理论学习的成果渗透到课堂教学当中。</tspan></text></g>
<g id="p4-5-3"><text class="t" x="189" y="3810.5"><tspan>3、认真研究考纲，明确本学期的教学工作要</tspan><tspan x="189" dy="17.86">求。由于自己教有一个实验班和一个普通班，</tspan><tspan x="189" dy="17.86">所以要注意做到每节课针对不同的学生能有不</tspan><tspan x="189" dy="17.86">同的侧重点，进一步做好分层次教学工作。做</tspan><tspan x="189" dy="17.86">好每节课的课后反思。</tspan></text></g>
<g id="p4-5-4"><text class="t" x="189" y="3941.8"><tspan>4、各班的作业量要适中，能及时批改并加以</tspan><tspan x="189" dy="17.86">反馈。对学生的作业，做到全批全改，以便全</tspan><tspan x="189" dy="17.86">面掌握学生的情况。</tspan></text></g>
<g id="p4-5-5"><text class="t" x="189" y="4037.3"><tspan>5、利用自习课等时间段，加强对学生的辅导</tspan><tspan x="189" dy="17.86">，既要优秀率，还要注意全员的平均分。</tspan></text></g>

<g id="watermark">
<text class="wm" x="643" y="562" transform="rotate(-30 643 522)">树图 shutu.cn</text>
<text class="wm" x="643" y="1562" transform="rotate(-30 643 1522)">树图 shutu.cn</text>
<text class="wm" x="646" y="2550" transform="rotate(-30 646 2510)">树图 shutu.cn</text>
<text class="wm" x="646" y="3552" transform="rotate(-30 646 3512)">树图 shutu.cn</text>
<text class="wm" x="646" y="4550" transform="rotate(-30 646 4510)">树图 shutu.cn</text>
<text class="wm" x="646" y="5550" transform="rotate(-30 646 5510)">树图 shutu.cn</text>
<text class="wm" x="1921" y="544" transform="rotate(-30 1921 504)">树图 shutu.cn</text>
<text class="wm" x="1921" y="1544" transform="rotate(-30 1921 1504)">树图 shutu.cn</text>
<text class="wm" x="1921" y="2544" transform="rotate(-30 1921 2504)">树图 shutu.cn</text>
<text class="wm" x="1921" y="3544" transform="rotate(-30 1921 3504)">树图 shutu.cn</text>
<text class="wm" x="1921" y="4544" transform="rotate(-30 1921 4504)">树图 shutu.cn</text>
<text class="wm" x="1921" y="5550" transform="rotate(-30 1921 5510)">树图 shutu.cn</text>
</g>
</g>
</svg>
